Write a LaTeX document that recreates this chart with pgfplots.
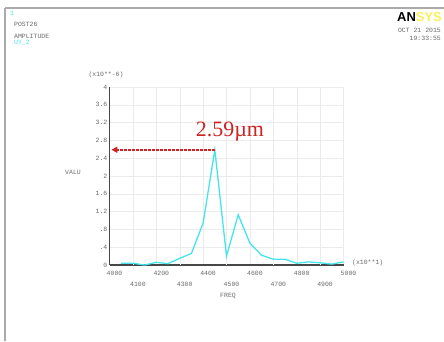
\documentclass[border=0pt]{standalone}
\usepackage{fontspec}
\setmainfont{Liberation Serif}
\setmonofont{Liberation Mono}
\usepackage{pgfplots}
\pgfplotsset{compat=1.18}
\usetikzlibrary{arrows.meta}
\definecolor{curve}{RGB}{70,228,235}
\definecolor{ared}{RGB}{205,35,35}
\definecolor{lbl}{RGB}{105,105,105}
\definecolor{frm}{RGB}{170,170,170}
\definecolor{ansysy}{RGB}{250,240,90}
\newcommand{\sm}{\ttfamily\fontsize{6.5}{7}\selectfont}
\begin{document}
\begin{tikzpicture}[x=1bp,y=1bp]
\useasboundingbox (0,0) rectangle (444,-341);
\draw[frm, line width=2bp] (5,-8) -- (444,-8);
\draw[frm, line width=1.5bp] (5,-8) -- (5,-341);
\node[anchor=west, inner sep=0, font=\sm, text=curve] at (10,-13) {1};
\node[anchor=west, inner sep=0, font=\sm, text=lbl] at (14,-24) {POST26};
\node[anchor=west, inner sep=0, font=\sm, text=lbl] at (14,-36) {AMPLITUDE};
\node[anchor=west, inner sep=0, font=\sm, text=curve] at (14,-43) {UY\_2};
\node[anchor=west, inner sep=0, font=\fontspec{Liberation Sans}\bfseries\fontsize{13}{14}\selectfont] at (397,-17) {AN\textcolor{ansysy}{SYS}};
\node[anchor=east, inner sep=0, font=\sm, text=lbl] at (441,-30) {OCT 21 2015};
\node[anchor=east, inner sep=0, font=\sm, text=lbl] at (441,-38) {19:33:55};
\node[inner sep=0, font=\sm, text=lbl] at (106,-75) {(x10**-6)};
\node[inner sep=0, font=\sm, text=lbl] at (73,-172) {VALU};
\node[anchor=west, inner sep=0, font=\sm, text=lbl] at (352,-263) {(x10**1)};
\node[inner sep=0, font=\sm, text=lbl] at (228,-296) {FREQ};
\begin{axis}[
  at={(109.5bp,-265bp)}, anchor=south west,
  scale only axis, width=234bp, height=178bp,
  xmin=4000, xmax=5000, ymin=0, ymax=4,
  axis x line=bottom, axis y line=left,
  axis line style={line width=1.8bp, color=black!72, -},
  clip=false,
  major tick length=0pt,
  grid=major,
  grid style={black!8, line width=0.4bp},
  xtick={4000,4200,4400,4600,4800,5000},
  xticklabels={4000,4200,4400,4600,4800,5000},
  extra x ticks={4100,4300,4500,4700,4900},
  extra x tick labels={4100,4300,4500,4700,4900},
  extra x tick style={grid=major, xticklabel style={yshift=-11bp}},
  xticklabel style={font=\sm, text=lbl, xshift=5bp, yshift=-5bp, inner sep=1bp},
  ytick={0,0.4,0.8,1.2,1.6,2,2.4,2.8,3.2,3.6,4},
  yticklabels={0,.4,.8,1.2,1.6,2,2.4,2.8,3.2,3.6,4},
  yticklabel style={font=\sm, text=lbl, inner sep=2bp},
]
\addplot[curve, line width=1.3bp] coordinates {
(4050,0.04) (4100,0.04) (4150,0.0) (4200,0.06) (4250,0.03)
(4300,0.15) (4350,0.26) (4400,0.94) (4450,2.59) (4500,0.20)
(4550,1.13) (4600,0.49) (4650,0.22) (4700,0.13) (4750,0.13)
(4800,0.04) (4850,0.07) (4900,0.05) (4950,0.02) (5000,0.07)
};
\draw[ared, line width=1.5bp, dash pattern=on 2.5bp off 1.5bp, -{Triangle[length=6bp,width=6bp]}] (axis cs:4450,2.59) -- (axis cs:4008,2.59);
\node[text=ared, font=\fontsize{22}{23}\selectfont, inner sep=0] at (axis cs:4515,2.99) {2.59µm};
\end{axis}
\end{tikzpicture}
\end{document}
